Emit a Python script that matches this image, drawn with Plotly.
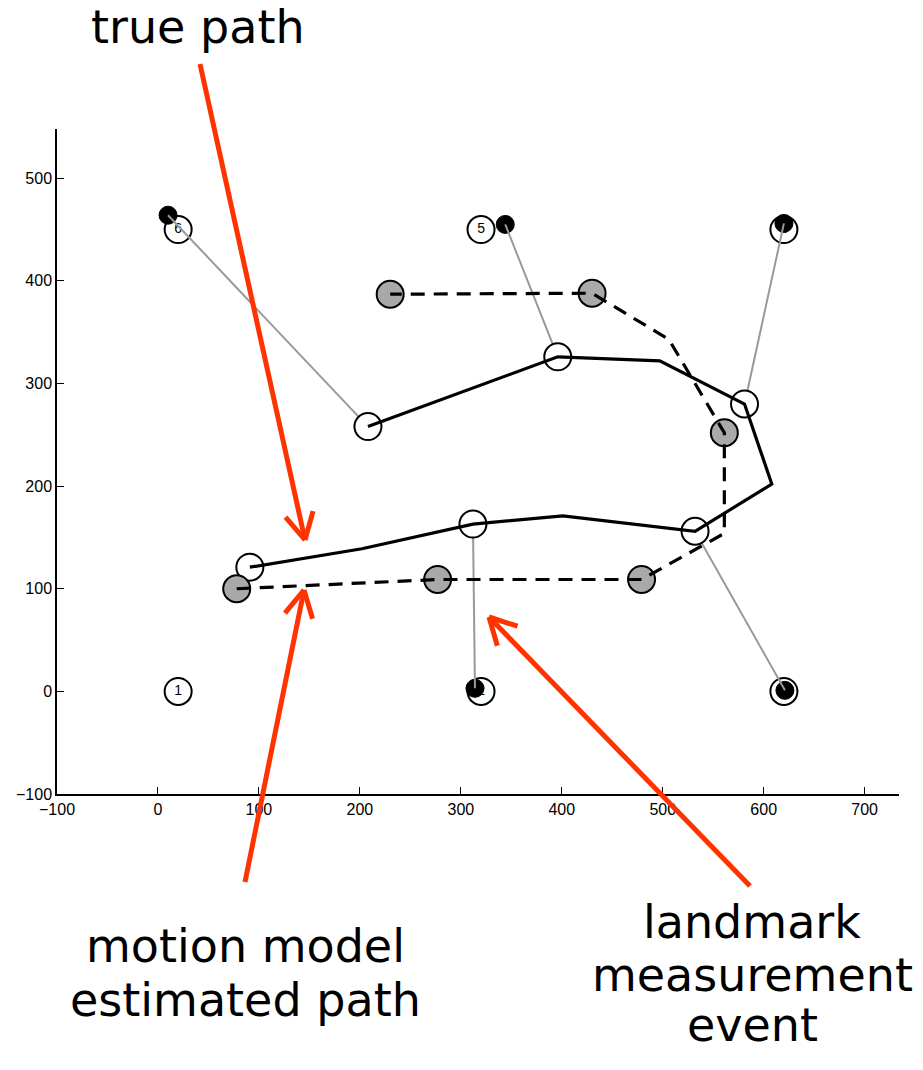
import numpy as np
import plotly.graph_objects as go

# ---- data ----
true_x = [91, 202, 312, 401, 532, 608, 581, 497, 396, 208]
true_y = [121, 139, 163, 171, 156, 202, 280, 322, 326, 258]
true_pose_x = [91, 312, 532, 581, 396, 208]
true_pose_y = [121, 163, 156, 280, 326, 258]

est_x = [78, 277, 479, 561, 561, 506, 430, 230]
est_y = [100, 109, 109, 154, 252, 343, 388, 387]
est_pose_x = [78, 277, 479, 561, 430, 230]
est_pose_y = [100, 109, 109, 252, 388, 387]

lm_x = [20, 320, 620, 620, 320, 20]
lm_y = [0, 0, 0, 450, 450, 450]
lm_labels = ["1", "2", "3", "4", "5", "6"]

lm_est_x = [314, 621, 620, 344, 10]
lm_est_y = [3, 1, 456, 455, 464]

# measurement events: (pose x, pose y) -> (estimated landmark x, y)
meas_from_x = [312, 532, 581, 396, 208]
meas_from_y = [163, 156, 280, 326, 258]
meas_to_x = [314, 621, 620, 344, 10]
meas_to_y = [3, 1, 456, 455, 464]

x_ticks = [-100, 0, 100, 200, 300, 400, 500, 600, 700]
y_ticks = [-100, 0, 100, 200, 300, 400, 500]

# ---- figure ----
W, H = 923, 1070
ML, MR, MT, MB = 57, 24, 129, 276
PW, PH = W - ML - MR, H - MT - MB

fig = go.Figure()

# landmarks (true)
fig.add_trace(go.Scatter(x=lm_x, y=lm_y, mode="markers+text", text=lm_labels,
                         textposition="middle center",
                         textfont=dict(family="Liberation Sans, Arial", size=14, color="black"),
                         marker=dict(size=27, color="white", line=dict(color="black", width=2)),
                         hoverinfo="skip"))
# estimated landmarks
fig.add_trace(go.Scatter(x=lm_est_x, y=lm_est_y, mode="markers",
                         marker=dict(size=18, color="black", line=dict(color="black", width=1)),
                         hoverinfo="skip"))
# measurement lines
for fx, fy, tx, ty in zip(meas_from_x, meas_from_y, meas_to_x, meas_to_y):
    fig.add_trace(go.Scatter(x=[fx, tx], y=[fy, ty], mode="lines",
                             line=dict(color="#999999", width=2), hoverinfo="skip"))
# pose circles
fig.add_trace(go.Scatter(x=true_pose_x, y=true_pose_y, mode="markers",
                         marker=dict(size=27, color="white", line=dict(color="black", width=2)),
                         hoverinfo="skip"))
fig.add_trace(go.Scatter(x=est_pose_x, y=est_pose_y, mode="markers",
                         marker=dict(size=27, color="#a9a9a9", line=dict(color="black", width=2)),
                         hoverinfo="skip"))
# paths
fig.add_trace(go.Scatter(x=true_x, y=true_y, mode="lines",
                         line=dict(color="black", width=3.2), hoverinfo="skip"))
fig.add_trace(go.Scatter(x=est_x, y=est_y, mode="lines",
                         line=dict(color="black", width=3.2, dash="14px,9px"), hoverinfo="skip"))


def px2paper(px, py):
    return (px - ML) / PW, (H - MB - py) / PH


RED = "#ff3300"
shapes = []


def arrow(x0, y0, x1, y1, head=30, ang=28):
    d = np.array([x1 - x0, y1 - y0], dtype=float)
    d /= np.linalg.norm(d)
    segs = [((x0, y0), (x1, y1))]
    for s in (1, -1):
        a = np.radians(ang * s)
        r = np.array([d[0] * np.cos(a) - d[1] * np.sin(a), d[0] * np.sin(a) + d[1] * np.cos(a)])
        segs.append(((x1, y1), (x1 - head * r[0], y1 - head * r[1])))
    for (ax, ay), (bx, by) in segs:
        p0 = px2paper(ax, ay)
        p1 = px2paper(bx, by)
        shapes.append(dict(type="line", xref="paper", yref="paper",
                           x0=p0[0], y0=p0[1], x1=p1[0], y1=p1[1],
                           line=dict(color=RED, width=5)))


arrow(200, 64, 305, 540)
arrow(245, 882, 304, 590)
arrow(750, 886, 489, 617)

annots = []
texts = [("true path", 198, 27), ("motion model", 245, 946), ("estimated path", 245, 1000),
         ("landmark", 752, 922), ("measurement", 752, 975), ("event", 752, 1025)]
for t, px, py in texts:
    ax_, ay_ = px2paper(px, py)
    annots.append(dict(text=t, x=ax_, y=ay_, xref="paper", yref="paper",
                       xanchor="center", yanchor="middle", showarrow=False,
                       font=dict(family="DejaVu Sans", size=46, color="black")))

fig.update_layout(
    width=W, height=H,
    margin=dict(l=ML, r=MR, t=MT, b=MB, pad=0),
    paper_bgcolor="white", plot_bgcolor="white",
    showlegend=False,
    shapes=shapes, annotations=annots,
    xaxis=dict(range=[-100, 734], tickvals=x_ticks, ticks="inside", ticklen=7,
               tickcolor="black", tickwidth=1, showline=True, linecolor="black",
               linewidth=1.5, showgrid=False, zeroline=False,
               tickfont=dict(family="Liberation Sans, Arial", size=16, color="black")),
    yaxis=dict(range=[-100, 548], tickvals=y_ticks, ticks="inside", ticklen=7,
               tickcolor="black", tickwidth=1, showline=True, linecolor="black",
               linewidth=1.5, showgrid=False, zeroline=False,
               tickfont=dict(family="Liberation Sans, Arial", size=16, color="black")),
)

fig.write_html("out.html")
